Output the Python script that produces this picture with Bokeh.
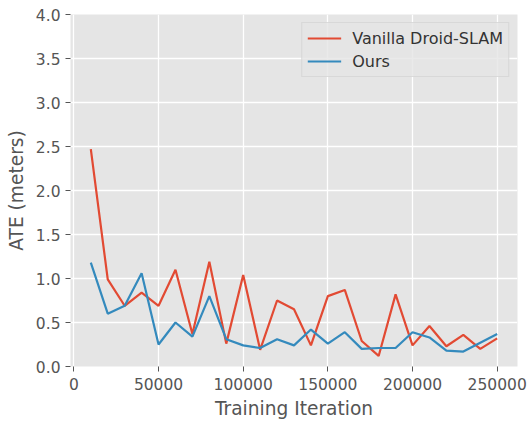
from bokeh.plotting import figure
from bokeh.models import Range1d, FixedTicker, NumeralTickFormatter, Legend, LegendItem
from bokeh.embed import file_html
from bokeh.resources import INLINE

iterations = [10000, 20000, 30000, 40000, 50000, 60000, 70000, 80000, 90000, 100000,
              110000, 120000, 130000, 140000, 150000, 160000, 170000, 180000, 190000, 200000,
              210000, 220000, 230000, 240000, 250000]
vanilla = [2.47, 0.99, 0.69, 0.84, 0.69, 1.10, 0.37, 1.19, 0.26, 1.04,
           0.19, 0.75, 0.65, 0.24, 0.80, 0.87, 0.29, 0.12, 0.82, 0.24,
           0.46, 0.23, 0.36, 0.20, 0.32]
ours = [1.18, 0.60, 0.69, 1.06, 0.25, 0.50, 0.34, 0.80, 0.31, 0.24,
        0.21, 0.31, 0.24, 0.42, 0.26, 0.39, 0.20, 0.21, 0.21, 0.39,
        0.33, 0.18, 0.17, 0.27, 0.37]
x_ticks = [0, 50000, 100000, 150000, 200000, 250000]
y_ticks = [0.0, 0.5, 1.0, 1.5, 2.0, 2.5, 3.0, 3.5, 4.0]
series_names = ["Vanilla Droid-SLAM", "Ours"]

FONT = "DejaVu Sans"
GRAY = "#555555"

p = figure(width=528, height=421, output_backend="svg", toolbar_location=None,
           x_range=Range1d(-2000, 262000), y_range=Range1d(0, 4.0),
           min_border_left=70, min_border_right=11, min_border_top=14, min_border_bottom=51)
p.background_fill_color = "#E5E5E5"
p.border_fill_color = "white"
p.outline_line_color = None

for g in (p.xgrid, p.ygrid):
    g.grid_line_color = "white"
    g.grid_line_width = 1.3

p.xaxis.ticker = FixedTicker(ticks=x_ticks)
p.yaxis.ticker = FixedTicker(ticks=y_ticks)
p.xaxis.formatter = NumeralTickFormatter(format="0")
p.yaxis.formatter = NumeralTickFormatter(format="0.0")
for ax in (p.xaxis, p.yaxis):
    ax.axis_line_color = None
    ax.major_tick_line_color = GRAY
    ax.major_tick_out = 5
    ax.major_tick_in = 0
    ax.minor_tick_line_color = None
    ax.major_label_text_color = GRAY
    ax.major_label_text_font = FONT
    ax.major_label_text_font_size = "15.5px"
    ax.axis_label_text_color = GRAY
    ax.axis_label_text_font = FONT
    ax.axis_label_text_font_size = "18.6px"
    ax.axis_label_text_font_style = "normal"
p.xaxis.major_label_standoff = 6
p.yaxis.major_label_standoff = 5
p.xaxis.axis_label = "Training Iteration"
p.yaxis.axis_label = "ATE (meters)"
p.xaxis.axis_label_standoff = 5
p.yaxis.axis_label_standoff = 6

r1 = p.line(iterations, vanilla, line_color="#E24A33", line_width=2.2)
r2 = p.line(iterations, ours, line_color="#348ABD", line_width=2.2)

legend = Legend(items=[LegendItem(label=series_names[0], renderers=[r1]),
                       LegendItem(label=series_names[1], renderers=[r2])],
                location="top_right")
legend.margin = 8
legend.padding = 5
legend.spacing = 3
legend.glyph_width = 34
legend.glyph_height = 20
legend.label_height = 20
legend.label_standoff = 11
legend.label_text_font = FONT
legend.label_text_font_size = "16px"
legend.label_text_color = "#333333"
legend.background_fill_color = "#E5E5E5"
legend.background_fill_alpha = 0.8
legend.border_line_color = "#CCCCCC"
legend.border_line_width = 1
p.add_layout(legend)

open("out.html", "w").write(file_html(p, INLINE))
